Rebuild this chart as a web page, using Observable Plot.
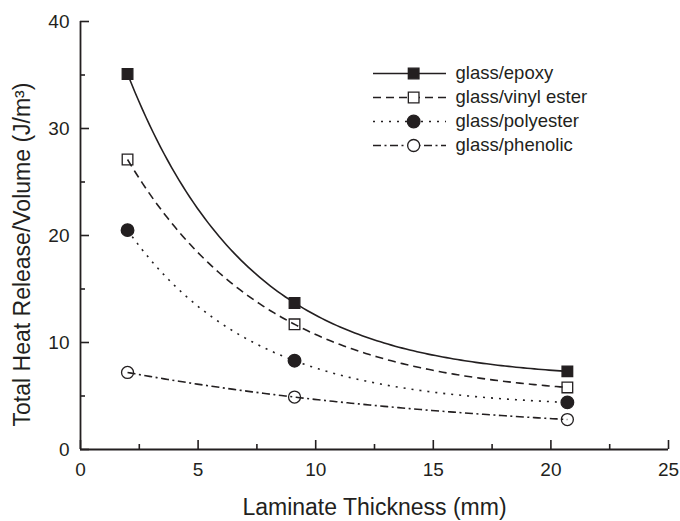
<!DOCTYPE html>
<html>
<head>
<meta charset="utf-8">
<script src="https://cdn.jsdelivr.net/npm/d3@7"></script>
<script src="https://cdn.jsdelivr.net/npm/@observablehq/plot@0.6"></script>
<style>
  html, body { margin: 0; padding: 0; background: #fff; }
  #chart { position: relative; width: 680px; height: 521px; overflow: hidden; }
  #chart svg.legend { position: absolute; left: 363px; top: 58px; }
</style>
</head>
<body>
<div id="chart"></div>
<script>
// ---- data ----
const thickness = [2.0, 9.1, 20.7];
const seriesNames = ["glass/epoxy", "glass/vinyl ester", "glass/polyester", "glass/phenolic"];
const epoxy = [35.1, 13.7, 7.3];
const vinylEster = [27.1, 11.7, 5.8];
const polyester = [20.5, 8.3, 4.4];
const phenolic = [7.2, 4.9, 2.8];
const xTicks = [0, 5, 10, 15, 20, 25];
const xMinorTicks = [2.5, 7.5, 12.5, 17.5, 22.5];
const yTicks = [0, 10, 20, 30, 40];
const yMinorTicks = [5, 15, 25, 35];
const xTitle = "Laminate Thickness (mm)";
const yTitle = "Total Heat Release/Volume (J/m³)";

const seriesValues = [epoxy, vinylEster, polyester, phenolic];
const rows = seriesNames.flatMap((name, i) =>
  thickness.map((t, j) => ({series: name, thickness: t, value: seriesValues[i][j]})));

// ---- styling ----
const ink = "#231f20";
const font = "'Liberation Sans', Arial, Helvetica, sans-serif";
const look = {
  "glass/epoxy":       {symbol: "square", fill: ink,    dash: null,             r: 6.0},
  "glass/vinyl ester": {symbol: "square", fill: "none", dash: "8,5",            r: 6.0},
  "glass/polyester":   {symbol: "circle", fill: ink,    dash: "2,6",            r: 6.3},
  "glass/phenolic":    {symbol: "circle", fill: "none", dash: "8,3.5,2,3.5",    r: 6.0}
};

// Smooth decay curve (rendering only): passes through the given scaled points
function decayCurve(context) {
  let xs = [], ys = [];
  return {
    areaStart() {}, areaEnd() {},
    lineStart() { xs = []; ys = []; },
    point(x, y) { xs.push(+x); ys.push(+y); },
    lineEnd() {
      const n = xs.length;
      if (!n) return;
      context.moveTo(xs[0], ys[0]);
      let ok = false;
      if (n === 3) {
        const [x0, x1, x2] = xs, [y0, y1, y2] = ys;
        const h0 = x1 - x0, h1 = x2 - x1, r = (y1 - y0) / (y2 - y1);
        if (isFinite(r) && h0 > 0 && h1 > 0 && r > h0 / h1 * 1.0001) {
          const f = c => (Math.exp(c * h0) - 1) / (1 - Math.exp(-c * h1));
          let lo = 1e-9, hi = 1e-4;
          while (f(hi) < r && hi < 10) hi *= 2;
          for (let k = 0; k < 200; k++) { const m = (lo + hi) / 2; if (f(m) < r) lo = m; else hi = m; }
          const c = (lo + hi) / 2;
          const b = (y1 - y0) / (Math.exp(-c * h0) - 1);
          const a = y0 - b;
          const steps = 120;
          for (let s = 1; s <= steps; s++) {
            const x = x0 + (x2 - x0) * s / steps;
            context.lineTo(x, a + b * Math.exp(-c * (x - x0)));
          }
          ok = true;
        }
      }
      if (!ok) for (let i = 1; i < n; i++) context.lineTo(xs[i], ys[i]);
    }
  };
}

const W = 680, H = 521, mL = 80, mR = 12, mT = 21, mB = 72;
const innerW = W - mL - mR, innerH = H - mT - mB;

const seriesMarks = seriesNames.flatMap(name => {
  const s = look[name];
  const d = rows.filter(r => r.series === name);
  return [
    Plot.line(d, {x: "thickness", y: "value", curve: decayCurve, stroke: ink, strokeWidth: 1.6,
                  strokeDasharray: s.dash, strokeLinecap: "butt"}),
    Plot.dot(d, {x: "thickness", y: "value", symbol: s.symbol, r: s.r, fill: s.fill,
                 stroke: ink, strokeWidth: 1.3})
  ];
});

const chart = Plot.plot({
  width: W, height: H,
  marginLeft: mL, marginRight: mR, marginTop: mT, marginBottom: mB,
  x: {domain: [0, 25]},
  y: {domain: [0, 40]},
  style: {fontFamily: font, background: "white", color: ink},
  marks: [
    Plot.ruleX([0], {stroke: ink, strokeWidth: 1.8}),
    Plot.ruleY([0], {stroke: ink, strokeWidth: 1.8}),
    Plot.tickX(xTicks, {x: d => d, insetTop: innerH - 9, stroke: ink, strokeWidth: 1.6}),
    Plot.tickX(xMinorTicks, {x: d => d, insetTop: innerH - 5, stroke: ink, strokeWidth: 1.6}),
    Plot.tickY(yTicks, {y: d => d, insetRight: innerW - 9, stroke: ink, strokeWidth: 1.6}),
    Plot.tickY(yMinorTicks, {y: d => d, insetRight: innerW - 5, stroke: ink, strokeWidth: 1.6}),
    Plot.axisX(xTicks, {tickSize: 0, tickPadding: 13, fontSize: 19, label: null}),
    Plot.axisY(yTicks, {tickSize: 0, tickPadding: 11, fontSize: 19, label: null}),
    Plot.text([xTitle], {text: d => d, frameAnchor: "bottom", lineAnchor: "middle", textAnchor: "middle",
                         dy: 58, fontSize: 23, fill: ink}),
    Plot.text([yTitle], {text: d => d, frameAnchor: "left", lineAnchor: "middle", textAnchor: "middle",
                         rotate: -90, dx: -57.5, dy: 19, fontSize: 23, fill: ink}),
    ...seriesMarks
  ]
});

// ---- legend (inside plot area, top right) ----
const legendMarks = seriesNames.flatMap(name => {
  const s = look[name];
  return [
    Plot.ruleY([name], {y: d => d, x1: 0, x2: 1, stroke: ink, strokeWidth: 1.6, strokeDasharray: s.dash}),
    Plot.dot([name], {x: 0.55, y: d => d, symbol: s.symbol, r: s.r, fill: s.fill === "none" ? "white" : s.fill,
                      stroke: ink, strokeWidth: 1.3})
  ];
});
const legend = Plot.plot({
  width: 260, height: 110,
  marginLeft: 0, marginRight: 0, marginTop: 0, marginBottom: 0,
  x: {domain: [0, 1], range: [10, 83], axis: null},
  y: {type: "point", domain: seriesNames, range: [15, 87], padding: 0, axis: null},
  style: {fontFamily: font, background: "none", color: ink, overflow: "visible"},
  marks: [
    ...legendMarks,
    Plot.text(seriesNames, {x: 1, y: d => d, text: d => d, dx: 9, textAnchor: "start",
                            lineAnchor: "middle", fontSize: 18.5, fill: ink})
  ]
});
legend.classList.add("legend");

const host = document.getElementById("chart");
host.appendChild(chart);
host.appendChild(legend);
</script>
</body>
</html>
